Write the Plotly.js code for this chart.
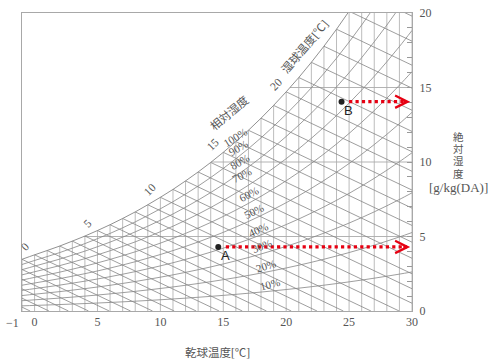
<!DOCTYPE html>
<html>
<head>
<meta charset="utf-8">
<script src="https://cdn.plot.ly/plotly-3.0.1.min.js"></script>
<style>html,body{margin:0;padding:0;background:#fff;}#chart{width:500px;height:364px;}</style>
</head>
<body>
<div id="chart"></div>
<script>
// ---- data ----
const satTemps = [-7,-6,-5,-4,-3,-2,-1,0,1,2,3,4,5,6,7,8,9,10,11,12,13,14,15,16,17,18,19,20,21,22,23,24,25,26,27,28,29,30];
const satHumidity = [2.08,2.27,2.47,2.69,2.93,3.19,3.47,3.77,4.06,4.36,4.69,5.03,5.40,5.79,6.21,6.65,7.13,7.63,8.16,8.73,9.33,9.97,10.65,11.37,12.13,12.94,13.80,14.71,15.67,16.69,17.77,18.91,20.12,21.40,22.75,24.17,25.67,27.25];
const dryBulb = [-1,0,1,2,3,4,5,6,7,8,9,10,11,12,13,14,15,16,17,18,19,20,21,22,23,24,25,26,27,28,29,30];
const rhLevels = [10,20,30,40,50,60,70,80,90];
const rhLabels = ['100%','90%','80%','70%','60%','50%','40%','30%','20%','10%'];
const rhLabelX = [15.97,16.13,16.29,16.50,17.08,17.48,17.72,18.04,18.36,18.75];
const rhLabelY = [11.71,10.97,9.97,9.10,7.82,6.68,5.47,4.33,2.99,1.78];
const rhLabelAngle = [-32,-30,-30,-28,-27,-26,-24,-22,-18,-15];
const wbLabelTemps = [0,5,10,15,20];
const hLines = [5,10,15];
const wetBulbSlope = 0.402;
const xTickVals = [0,5,10,15,20,25,30];
const xTickText = ['0','5','10','15','20','25','30'];
const yTickVals = [0,5,10,15,20];
const yTitleChars = ['絶','対','湿','度'];
const pointLabels = ['A','B'];
const pointT = [14.6,24.4];
const pointW = [4.3,14.05];

// ---- helpers ----
const ws = t => satHumidity[satTemps.indexOf(t)];
const FONT = "'Liberation Serif','Noto Sans CJK JP',serif";
const GRAY = '#555';

const traces = [];

// vertical dry-bulb lines
{
  const x=[], y=[];
  dryBulb.forEach(t => { x.push(t,t,null); y.push(0, ws(t), null); });
  traces.push({x, y, mode:'lines', line:{color:'#b4b4b4', width:0.9}, hoverinfo:'skip'});
}
// horizontal humidity lines
{
  const x=[], y=[];
  hLines.forEach(w => {
    let t0 = 30;
    for (let i=0;i<satTemps.length-1;i++){
      const a=satHumidity[i], b=satHumidity[i+1];
      if (a<=w && b>=w){ t0 = satTemps[i] + (w-a)/(b-a); break; }
    }
    x.push(t0,30,null); y.push(w,w,null);
  });
  traces.push({x, y, mode:'lines', line:{color:'#aaaaaa', width:0.9}, hoverinfo:'skip'});
}
// wet-bulb lines
{
  const x=[], y=[];
  satTemps.forEach((tw,i) => {
    const w0 = satHumidity[i];
    const xs = Math.max(tw,-1);
    const ys = w0 - wetBulbSlope*(xs - tw);
    if (ys <= 0) return;
    let xe = 30, ye = w0 - wetBulbSlope*(30 - tw);
    if (ye < 0){ xe = tw + w0/wetBulbSlope; ye = 0; }
    x.push(xs,xe,null); y.push(ys,ye,null);
  });
  traces.push({x, y, mode:'lines', line:{color:'#858585', width:0.8}, hoverinfo:'skip'});
}
// relative humidity curves
rhLevels.forEach(rh => {
  const p = rh/100;
  const x=[], y=[];
  dryBulb.forEach(t => { const s=ws(t); x.push(t); y.push(622*p*s/(622+s-p*s)); });
  traces.push({x, y, mode:'lines', line:{color:'#858585', width:0.8, shape:'spline'}, hoverinfo:'skip'});
});
// saturation curve
traces.push({x:dryBulb, y:dryBulb.map(ws), mode:'lines', line:{color:'#858585', width:0.9, shape:'spline'}, hoverinfo:'skip'});

// red dotted arrows
pointT.forEach((t,i) => {
  traces.push({x:[t+0.6, 29.6], y:[pointW[i], pointW[i]], mode:'lines',
    line:{color:'#e60012', width:3.2, dash:'dot'}, hoverinfo:'skip'});
});
// points
traces.push({x:pointT, y:pointW, mode:'markers', marker:{color:'#222', size:6}, hoverinfo:'skip'});

const annotations = [];
// arrow heads
pointT.forEach((t,i) => {
  annotations.push({x:29.85, y:pointW[i], ax:29.2, ay:pointW[i], xref:'x', yref:'y', axref:'x', ayref:'y',
    text:'', showarrow:true, arrowhead:5, arrowsize:1.1, arrowwidth:2.2, arrowcolor:'#e60012'});
});
// point labels
pointLabels.forEach((lab,i) => {
  annotations.push({x:pointT[i], y:pointW[i], text:lab, showarrow:false, xshift:7, yshift:-9,
    font:{family:"'Liberation Sans',Arial,sans-serif", size:13, color:'#222'}});
});
// RH labels
rhLabels.forEach((lab,i) => {
  annotations.push({x:rhLabelX[i], y:rhLabelY[i], text:lab, showarrow:false, textangle:rhLabelAngle[i],
    font:{family:FONT, size:11, color:GRAY}});
});
annotations.push({x:15.5, y:13.32, text:'相対湿度', showarrow:false, textangle:-40,
  font:{family:FONT, size:11.5, color:GRAY}});
// wet bulb labels
wbLabelTemps.forEach(t => {
  annotations.push({x:t, y:ws(t), text:String(t), showarrow:false, textangle:-45, xshift:-10, yshift:8,
    font:{family:FONT, size:11.5, color:GRAY}});
});
annotations.push({x:21.46, y:17.75, text:'湿球温度[℃]', showarrow:false, textangle:-50,
  font:{family:FONT, size:11.5, color:GRAY}});
// -1 tick label
annotations.push({x:-1, y:0, text:'−1', showarrow:false, xanchor:'right', xshift:-1, yshift:-12,
  font:{family:FONT, size:12, color:GRAY}});
// axis titles
annotations.push({xref:'paper', yref:'paper', x:0.5, xanchor:'center', y:0, yanchor:'middle', yshift:-41, text:'乾球温度[℃]', showarrow:false,
  font:{family:FONT, size:11.5, color:GRAY}});
yTitleChars.forEach((ch,i) => {
  annotations.push({xref:'paper', yref:'paper', x:1, xanchor:'center', xshift:46, y:0.5, yanchor:'middle',
    yshift:25 - i*12.4, text:ch, showarrow:false, font:{family:FONT, size:10.5, color:GRAY}});
});
annotations.push({xref:'paper', yref:'paper', x:1, xanchor:'center', xshift:46, y:0.5, yanchor:'middle', yshift:-25, text:'[g/kg(DA)]', showarrow:false,
  font:{family:FONT, size:13, color:GRAY}});

const layout = {
  width:500, height:364,
  margin:{l:22, r:88, t:13, b:53},
  paper_bgcolor:'#fff', plot_bgcolor:'#fff',
  showlegend:false,
  xaxis:{range:[-1,30], tickvals:xTickVals, ticktext:xTickText, showgrid:false, zeroline:false,
    showline:true, mirror:true, linecolor:'#a8a8a8', linewidth:1, ticks:'',
    tickfont:{family:FONT, size:12, color:GRAY}},
  yaxis:{range:[0,20], side:'right', tickvals:yTickVals, showgrid:false, zeroline:false,
    showline:true, mirror:true, linecolor:'#a8a8a8', linewidth:1,
    ticks:'inside', ticklen:5, tickcolor:'#999',
    minor:{ticks:'inside', dtick:1, ticklen:5, tickcolor:'#999'},
    ticklabelstandoff:4,
    tickfont:{family:FONT, size:12, color:GRAY}},
  annotations
};
Plotly.newPlot('chart', traces, layout, {staticPlot:true, displayModeBar:false});
</script>
</body>
</html>
